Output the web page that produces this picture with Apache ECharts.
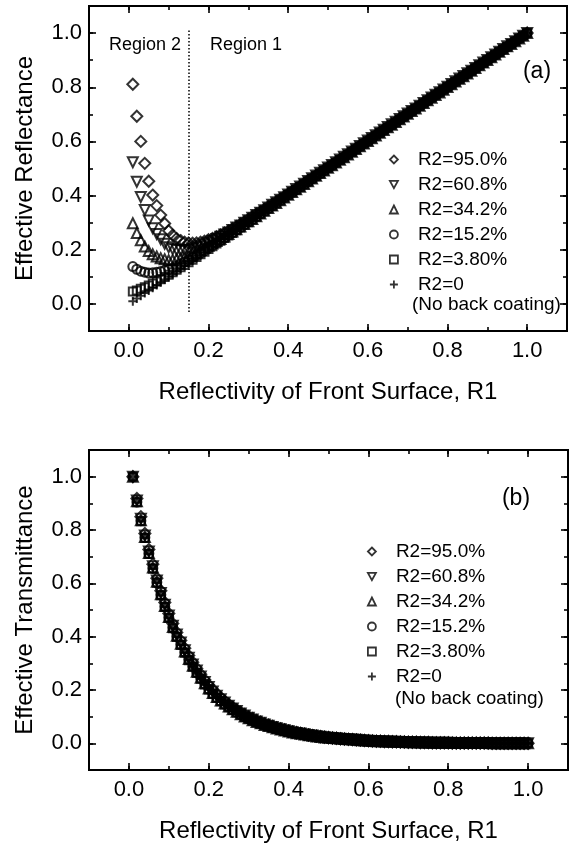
<!DOCTYPE html>
<html>
<head>
<meta charset="utf-8">
<script src="https://cdn.jsdelivr.net/npm/echarts@6/dist/echarts.min.js"></script>
<style>
html, body { margin: 0; padding: 0; background: #fff; }
#chart { width: 576px; height: 844px; }
</style>
</head>
<body>
<div id="chart"></div>
<script>
// reflectivity of front surface, R1
const r1 = [
  0.01, 0.02, 0.03, 0.04, 0.05, 0.06, 0.07, 0.08, 0.09, 0.10,
  0.11, 0.12, 0.13, 0.14, 0.15, 0.16, 0.17, 0.18, 0.19, 0.20,
  0.21, 0.22, 0.23, 0.24, 0.25, 0.26, 0.27, 0.28, 0.29, 0.30,
  0.31, 0.32, 0.33, 0.34, 0.35, 0.36, 0.37, 0.38, 0.39, 0.40,
  0.41, 0.42, 0.43, 0.44, 0.45, 0.46, 0.47, 0.48, 0.49, 0.50,
  0.51, 0.52, 0.53, 0.54, 0.55, 0.56, 0.57, 0.58, 0.59, 0.60,
  0.61, 0.62, 0.63, 0.64, 0.65, 0.66, 0.67, 0.68, 0.69, 0.70,
  0.71, 0.72, 0.73, 0.74, 0.75, 0.76, 0.77, 0.78, 0.79, 0.80,
  0.81, 0.82, 0.83, 0.84, 0.85, 0.86, 0.87, 0.88, 0.89, 0.90,
  0.91, 0.92, 0.93, 0.94, 0.95, 0.96, 0.97, 0.98, 0.99, 1.00
];

const seriesNames = ['R2=95.0%', 'R2=60.8%', 'R2=34.2%', 'R2=15.2%', 'R2=3.80%', 'R2=0'];

// (a) effective reflectance
const refl95 = [
  .811, .693, .600, .519, .453, .402, .363, .328, .297, .270,
  .254, .242, .234, .228, .225, .224, .225, .228, .232, .237,
  .242, .248, .255, .262, .270, .278, .286, .295, .304, .313,
  .323, .332, .341, .350, .360, .369, .378, .388, .397, .407,
  .416, .426, .436, .446, .456, .465, .475, .485, .495, .505,
  .514, .524, .534, .544, .554, .564, .574, .584, .594, .604,
  .613, .623, .633, .643, .653, .663, .673, .683, .693, .703,
  .713, .723, .733, .743, .753, .762, .772, .782, .792, .802,
  .812, .822, .832, .842, .852, .861, .871, .881, .891, .901,
  .911, .921, .931, .941, .951, .960, .970, .980, .990, 1.000
];
const refl608 = [
  .523, .451, .395, .347, .308, .279, .258, .239, .222, .209,
  .203, .199, .198, .198, .200, .204, .208, .213, .219, .226,
  .233, .240, .248, .256, .264, .273, .282, .290, .300, .309,
  .318, .328, .337, .346, .356, .366, .375, .385, .394, .404,
  .414, .424, .434, .444, .454, .464, .474, .484, .494, .504,
  .513, .523, .533, .543, .553, .563, .573, .583, .593, .603,
  .613, .623, .633, .643, .653, .663, .673, .683, .693, .703,
  .712, .722, .732, .742, .752, .762, .772, .782, .792, .802,
  .812, .822, .832, .842, .852, .861, .871, .881, .891, .901,
  .911, .921, .931, .941, .951, .960, .970, .980, .990, 1.000
];
const refl342 = [
  .298, .262, .235, .212, .195, .183, .175, .169, .165, .161,
  .162, .165, .168, .173, .178, .184, .191, .199, .207, .215,
  .223, .232, .240, .249, .258, .267, .276, .286, .295, .305,
  .314, .324, .334, .344, .354, .363, .373, .383, .393, .403,
  .413, .423, .433, .443, .453, .463, .473, .483, .493, .503,
  .512, .522, .532, .542, .552, .562, .572, .582, .592, .602,
  .612, .622, .632, .642, .652, .662, .672, .682, .692, .702,
  .712, .722, .732, .742, .752, .761, .771, .781, .791, .801,
  .811, .821, .831, .841, .851, .861, .871, .881, .891, .901,
  .911, .921, .931, .941, .951, .960, .970, .980, .990, 1.000
];
const refl152 = [
  .138, .128, .121, .117, .114, .115, .117, .120, .123, .127,
  .133, .140, .147, .155, .162, .171, .179, .188, .197, .207,
  .216, .225, .234, .244, .254, .263, .273, .283, .293, .303,
  .313, .323, .333, .343, .353, .363, .373, .383, .393, .403,
  .412, .422, .432, .442, .452, .462, .472, .482, .492, .502,
  .512, .522, .532, .542, .552, .562, .572, .582, .592, .602,
  .612, .622, .632, .642, .652, .661, .671, .681, .691, .701,
  .711, .721, .731, .741, .751, .761, .771, .781, .791, .801,
  .811, .821, .831, .841, .851, .861, .871, .881, .891, .901,
  .910, .920, .930, .940, .950, .960, .970, .980, .990, 1.000
];
const refl38 = [
  .046, .050, .056, .062, .068, .075, .083, .091, .099, .108,
  .117, .126, .135, .144, .154, .163, .173, .183, .193, .203,
  .213, .223, .233, .243, .253, .262, .272, .282, .292, .302,
  .312, .322, .332, .342, .352, .362, .372, .382, .392, .402,
  .412, .422, .432, .442, .452, .462, .472, .482, .492, .502,
  .511, .521, .531, .541, .551, .561, .571, .581, .591, .601,
  .611, .621, .631, .641, .651, .661, .671, .681, .691, .701,
  .711, .721, .731, .741, .751, .761, .771, .781, .791, .801,
  .810, .820, .830, .840, .850, .860, .870, .880, .890, .900,
  .910, .920, .930, .940, .950, .960, .970, .980, .990, 1.000
];
const refl0 = [
  .01, .02, .03, .04, .05, .06, .07, .08, .09, .10,
  .11, .12, .13, .14, .15, .16, .17, .18, .19, .20,
  .21, .22, .23, .24, .25, .26, .27, .28, .29, .30,
  .31, .32, .33, .34, .35, .36, .37, .38, .39, .40,
  .41, .42, .43, .44, .45, .46, .47, .48, .49, .50,
  .51, .52, .53, .54, .55, .56, .57, .58, .59, .60,
  .61, .62, .63, .64, .65, .66, .67, .68, .69, .70,
  .71, .72, .73, .74, .75, .76, .77, .78, .79, .80,
  .81, .82, .83, .84, .85, .86, .87, .88, .89, .90,
  .91, .92, .93, .94, .95, .96, .97, .98, .99, 1.00
];

// (b) effective transmittance
const trans95 = [
  1.000, .918, .850, .787, .727, .672, .619, .572, .528, .487,
  .449, .416, .386, .357, .329, .304, .281, .259, .238, .219,
  .202, .186, .172, .159, .147, .136, .126, .117, .108, .100,
  .093, .086, .080, .074, .069, .064, .059, .055, .051, .047,
  .044, .041, .038, .035, .032, .030, .028, .026, .024, .022,
  .020, .019, .017, .016, .015, .014, .013, .012, .011, .010,
  .009, .008, .008, .007, .007, .006, .006, .005, .005, .004,
  .004, .004, .003, .003, .003, .002, .002, .002, .002, .002,
  .001, .001, .001, .001, .001, .001, .001, .001, .001, .001,
  0, 0, 0, 0, 0, 0, 0, 0, 0, 0
];
const trans608 = [
  1.000, .911, .842, .779, .719, .664, .611, .564, .520, .479,
  .441, .408, .378, .349, .321, .296, .273, .251, .230, .211,
  .194, .178, .165, .153, .141, .131, .121, .112, .104, .096,
  .089, .082, .077, .071, .066, .061, .057, .053, .049, .045,
  .042, .039, .037, .034, .031, .029, .027, .025, .023, .021,
  .020, .019, .017, .016, .015, .014, .013, .012, .011, .010,
  .009, .008, .008, .007, .007, .006, .006, .005, .005, .004,
  .004, .004, .003, .003, .003, .002, .002, .002, .002, .002,
  .001, .001, .001, .001, .001, .001, .001, .001, .001, .001,
  0, 0, 0, 0, 0, 0, 0, 0, 0, 0
];
const trans342 = [
  1.000, .908, .837, .774, .714, .659, .606, .559, .515, .474,
  .436, .403, .373, .344, .316, .291, .268, .246, .225, .206,
  .189, .174, .161, .149, .138, .128, .118, .109, .101, .094,
  .087, .080, .075, .069, .065, .060, .056, .052, .048, .044,
  .041, .038, .036, .033, .030, .028, .026, .024, .022, .021,
  .020, .019, .017, .016, .015, .014, .013, .012, .011, .010,
  .009, .008, .008, .007, .007, .006, .006, .005, .005, .004,
  .004, .004, .003, .003, .003, .002, .002, .002, .002, .002,
  .001, .001, .001, .001, .001, .001, .001, .001, .001, .001,
  0, 0, 0, 0, 0, 0, 0, 0, 0, 0
];
const trans152 = [
  1.000, .905, .835, .772, .712, .657, .604, .557, .513, .472,
  .434, .401, .371, .342, .314, .289, .266, .244, .223, .204,
  .187, .172, .159, .147, .136, .126, .117, .108, .100, .092,
  .086, .079, .074, .068, .064, .059, .055, .051, .047, .044,
  .041, .038, .035, .032, .030, .028, .026, .024, .022, .020,
  .019, .018, .016, .015, .014, .013, .012, .011, .010, .009,
  .008, .008, .007, .007, .006, .006, .005, .005, .004, .004,
  .004, .003, .003, .003, .002, .002, .002, .002, .002, .002,
  .001, .001, .001, .001, .001, .001, .001, .001, .001, .001,
  0, 0, 0, 0, 0, 0, 0, 0, 0, 0
];
const trans38 = [
  1.000, .904, .833, .770, .710, .655, .602, .555, .511, .470,
  .432, .399, .369, .340, .312, .287, .264, .242, .221, .202,
  .185, .170, .158, .146, .135, .125, .116, .107, .099, .092,
  .085, .079, .073, .068, .063, .058, .054, .050, .046, .043,
  .040, .037, .035, .032, .029, .027, .025, .024, .022, .020,
  .019, .018, .016, .015, .014, .013, .012, .011, .010, .009,
  .008, .008, .007, .007, .006, .006, .005, .005, .004, .004,
  .004, .003, .003, .003, .002, .002, .002, .002, .002, .002,
  .001, .001, .001, .001, .001, .001, .001, .001, .001, .001,
  0, 0, 0, 0, 0, 0, 0, 0, 0, 0
];
const trans0 = [
  1.000, .903, .832, .769, .709, .654, .601, .554, .510, .469,
  .431, .398, .368, .339, .311, .286, .263, .241, .220, .201,
  .184, .169, .157, .145, .134, .124, .115, .106, .098, .091,
  .085, .078, .073, .067, .063, .058, .054, .050, .046, .043,
  .040, .037, .035, .032, .029, .027, .025, .024, .022, .020,
  .019, .018, .016, .015, .014, .013, .012, .011, .010, .009,
  .008, .008, .007, .007, .006, .006, .005, .005, .004, .004,
  .004, .003, .003, .003, .002, .002, .002, .002, .002, .002,
  .001, .001, .001, .001, .001, .001, .001, .001, .001, .001,
  0, 0, 0, 0, 0, 0, 0, 0, 0, 0
];

// boundary between region 2 and region 1
const regionBoundary = 0.15;

const FONT = '"Liberation Sans", Arial, Helvetica, sans-serif';
const symbols = [
  'diamond',
  'path://M0,0L10,0L5,9Z',
  'triangle',
  'circle',
  'rect',
  'path://M5,0L5,10M0,5L10,5'
];
const symbolSizes = [11, 10, 10, 9, 8, 9];

const chart = echarts.init(document.getElementById('chart'));

function tickAxis(dim, gridIndex, position, major) {
  const ax = {
    type: 'value',
    gridIndex: gridIndex,
    position: position,
    min: -0.1,
    max: 1.1,
    axisLine: {show: false, onZero: false},
    splitLine: {show: false},
    axisTick: {
      show: true,
      inside: true,
      length: major ? 7 : 4,
      lineStyle: {color: '#000', width: 1.6}
    },
    axisLabel: {show: false}
  };
  if (major) {
    ax.splitNumber = 6;
  } else {
    ax.interval = 0.1;
  }
  return ax;
}

function labelAxis(dim, gridIndex, name, gap) {
  const ax = tickAxis(dim, gridIndex, dim === 'x' ? 'bottom' : 'left', true);
  ax.axisLabel = {
    show: true,
    color: '#000',
    fontSize: 22,
    fontFamily: FONT,
    margin: dim === 'x' ? 9 : 7,
    formatter: function (v) {
      return (v < -0.001 || v > 1.001) ? '' : v.toFixed(1);
    }
  };
  ax.name = name;
  ax.nameLocation = 'middle';
  ax.nameGap = gap;
  ax.nameTextStyle = {color: '#000', fontSize: 24, fontFamily: FONT};
  return ax;
}

const xAxes = [];
const yAxes = [];
[0, 1].forEach(function (g) {
  xAxes.push(labelAxis('x', g, 'Reflectivity of Front Surface, R1', 49));
  xAxes.push(tickAxis('x', g, 'top', true));
  xAxes.push(tickAxis('x', g, 'bottom', false));
  xAxes.push(tickAxis('x', g, 'top', false));
  yAxes.push(labelAxis('y', g, g === 0 ? 'Effective Reflectance' : 'Effective Transmittance', 52));
  yAxes.push(tickAxis('y', g, 'right', true));
  yAxes.push(tickAxis('y', g, 'left', false));
  yAxes.push(tickAxis('y', g, 'right', false));
});

function makeSeries(gridIndex, values, k) {
  return {
    type: 'scatter',
    name: seriesNames[k],
    xAxisIndex: gridIndex * 4,
    yAxisIndex: gridIndex * 4,
    symbol: symbols[k],
    symbolSize: symbolSizes[k],
    itemStyle: {color: 'rgba(0,0,0,0)', borderColor: '#000', borderWidth: 2},
    emphasis: {disabled: true},
    data: r1.map(function (x, i) { return [x, values[i]]; })
  };
}

const reflSets = [refl95, refl608, refl342, refl152, refl38, refl0];
const transSets = [trans95, trans608, trans342, trans152, trans38, trans0];
const series = [];
for (let k = 5; k >= 0; k--) {
  series.push(makeSeries(0, reflSets[k], k));
}
for (let k = 5; k >= 0; k--) {
  series.push(makeSeries(1, transSets[k], k));
}
series[0].markLine = {
  silent: true,
  symbol: 'none',
  label: {show: false},
  lineStyle: {color: '#000', type: [1.5, 2], width: 1.5},
  data: [[{coord: [regionBoundary, -0.03]}, {coord: [regionBoundary, 1.01]}]]
};

function legendAt(left, top) {
  return {
    orient: 'vertical',
    left: left,
    top: top,
    itemWidth: 8,
    itemHeight: 8,
    itemGap: 6,
    selectedMode: false,
    data: seriesNames,
    itemStyle: {borderWidth: 1.8},
    textStyle: {color: '#000', fontSize: 19, fontFamily: FONT, padding: [0, 0, 0, 15]}
  };
}

function label(text, x, y, size, align) {
  return {
    type: 'text',
    x: x,
    y: y,
    style: {
      text: text,
      fill: '#000',
      font: size + 'px ' + FONT,
      align: align || 'center',
      verticalAlign: 'middle'
    }
  };
}

chart.setOption({
  animation: false,
  backgroundColor: '#fff',
  grid: [
    {left: 89, top: 6, width: 478, height: 325, show: true, borderColor: '#000', borderWidth: 2},
    {left: 89, top: 450, width: 479, height: 323, show: true, borderColor: '#000', borderWidth: 2}
  ],
  xAxis: xAxes,
  yAxis: yAxes,
  legend: [legendAt(384, 145), legendAt(362, 537)],
  series: series,
  graphic: [
    label('Region 2', 145, 45, 18),
    label('Region 1', 246, 45, 18),
    label('(a)', 537, 72, 23),
    label('(b)', 516, 499, 23),
    label('(No back coating)', 412, 305, 19, 'left'),
    label('(No back coating)', 395, 699, 19, 'left')
  ]
});
</script>
</body>
</html>
